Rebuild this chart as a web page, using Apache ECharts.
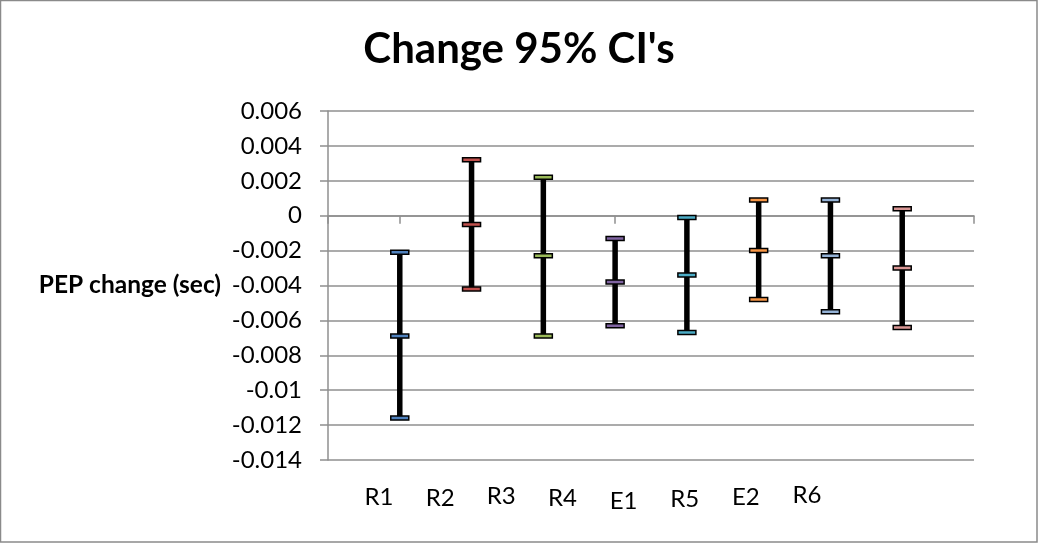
<!DOCTYPE html>
<html>
<head>
<meta charset="utf-8">
<script src="https://cdn.jsdelivr.net/npm/echarts@6/dist/echarts.min.js"></script>
<style>
html,body{margin:0;padding:0;background:#fff;}
#chart{width:1038px;height:543px;}
</style>
</head>
<body>
<div id="chart"></div>
<script>
// ---- data ----
const categories = ['R1', 'R2', 'R3', 'R4', 'E1', 'R5', 'E2', 'R6'];
const highValues = [-0.0021, 0.0032, 0.0022, -0.0013, -0.0001, 0.0009, 0.0009, 0.0004];
const midValues  = [-0.0069, -0.0005, -0.0023, -0.0038, -0.0034, -0.0020, -0.0023, -0.0030];
const lowValues  = [-0.0116, -0.0042, -0.0069, -0.0063, -0.0067, -0.0048, -0.0055, -0.0064];
const yTicks = [-0.014, -0.012, -0.01, -0.008, -0.006, -0.004, -0.002, 0, 0.002, 0.004, 0.006];
const titleText = "Change 95% CI's";
const yAxisName = 'PEP change (sec)';

// ---- styles / layout ----
const markerColors = ['#4F81BD', '#C0504D', '#9BBB59', '#8064A2', '#4BACC6', '#F79646', '#95B3D7', '#D99694'];
const labelNudge = [0, 1, -1, 0.5, 3.5, 1.3, 0.2, -2.5]; // hand-placed label offsets (px)
const FONT = 'Lato';
const gridColor = '#8f8f8f';

const chart = echarts.init(document.getElementById('chart'), null, {renderer: 'canvas'});

const seriesData = categories.map((c, i) => [c, lowValues[i], midValues[i], highValues[i]]);

const rich = {};
categories.forEach((c, i) => {
  rich['l' + i] = {fontFamily: FONT, fontSize: 24, color: '#000', padding: [3 + labelNudge[i], 0, 0, 0]};
});

const option = {
  backgroundColor: '#fff',
  animation: false,
  title: {
    text: titleText,
    left: 'center',
    top: 23,
    textStyle: {fontFamily: FONT, fontWeight: 'bold', fontSize: 42, color: '#000'}
  },
  grid: [
    {left: 328, right: 64, top: 111, bottom: 83, containLabel: false},
    {left: 348.5, width: 489, top: 111, bottom: 83, containLabel: false}
  ],
  xAxis: [
    {
      gridIndex: 0,
      type: 'category',
      data: [''].concat(categories, [' ']),
      boundaryGap: false,
      axisLine: {onZero: true, lineStyle: {color: gridColor, width: 1.5}},
      axisTick: {show: true, length: 8, interval: 0, lineStyle: {color: gridColor, width: 1.5}},
      axisLabel: {show: false},
      splitLine: {show: false}
    },
    {
      gridIndex: 1,
      type: 'category',
      data: categories,
      boundaryGap: true,
      axisLine: {show: false},
      axisTick: {show: false},
      axisLabel: {
        show: true, interval: 0, hideOverlap: false, margin: 22.5,
        fontFamily: FONT, fontSize: 24, color: '#000',
        formatter: (v, i) => '{l' + i + '|' + v + '}',
        rich: rich
      },
      splitLine: {show: false}
    }
  ],
  yAxis: [
    {
      gridIndex: 0,
      type: 'value',
      min: yTicks[0],
      max: yTicks[yTicks.length - 1],
      interval: 0.002,
      name: yAxisName,
      nameLocation: 'middle',
      nameRotate: 0,
      nameGap: 107,
      nameTextStyle: {fontFamily: FONT, fontWeight: 'bold', fontSize: 24.5, color: '#000', align: 'right', verticalAlign: 'middle'},
      axisLine: {show: true, lineStyle: {color: gridColor, width: 1.5}},
      axisTick: {show: true, length: 8, lineStyle: {color: gridColor, width: 1.5}},
      axisLabel: {
        margin: 26, fontFamily: FONT, fontSize: 24, color: '#000',
        formatter: v => String(parseFloat(Number(v).toFixed(3)))
      },
      splitLine: {show: true, lineStyle: {color: gridColor, width: 1.5}}
    },
    {
      gridIndex: 1,
      type: 'value',
      show: false,
      min: 0, max: 1
    }
  ],
  graphic: [
    {
      type: 'rect',
      shape: {x: 0.5, y: 0.5, width: 1036.5, height: 541.5},
      style: {fill: 'none', stroke: '#8a8a8a', lineWidth: 1.5},
      silent: true,
      z: 100
    }
  ],
  series: [
    {
      type: 'custom',
      xAxisIndex: 0,
      yAxisIndex: 0,
      data: seriesData,
      encode: {x: 0, y: [1, 2, 3]},
      renderItem: function (params, api) {
        const x = api.value(0);
        const pLow = api.coord([x, api.value(1)]);
        const pMid = api.coord([x, api.value(2)]);
        const pHigh = api.coord([x, api.value(3)]);
        const color = markerColors[params.dataIndex % markerColors.length];
        const mw = 18, mh = 4;
        const marker = p => ({
          type: 'rect',
          shape: {x: p[0] - mw / 2, y: p[1] - mh / 2, width: mw, height: mh},
          style: {fill: color, stroke: '#000', lineWidth: 1.5}
        });
        return {
          type: 'group',
          children: [
            {
              type: 'line',
              shape: {x1: pHigh[0], y1: pHigh[1], x2: pLow[0], y2: pLow[1]},
              style: {stroke: '#000', lineWidth: 5.5}
            },
            marker(pHigh),
            marker(pMid),
            marker(pLow)
          ]
        };
      }
    }
  ]
};

chart.setOption(option);
</script>
</body>
</html>
